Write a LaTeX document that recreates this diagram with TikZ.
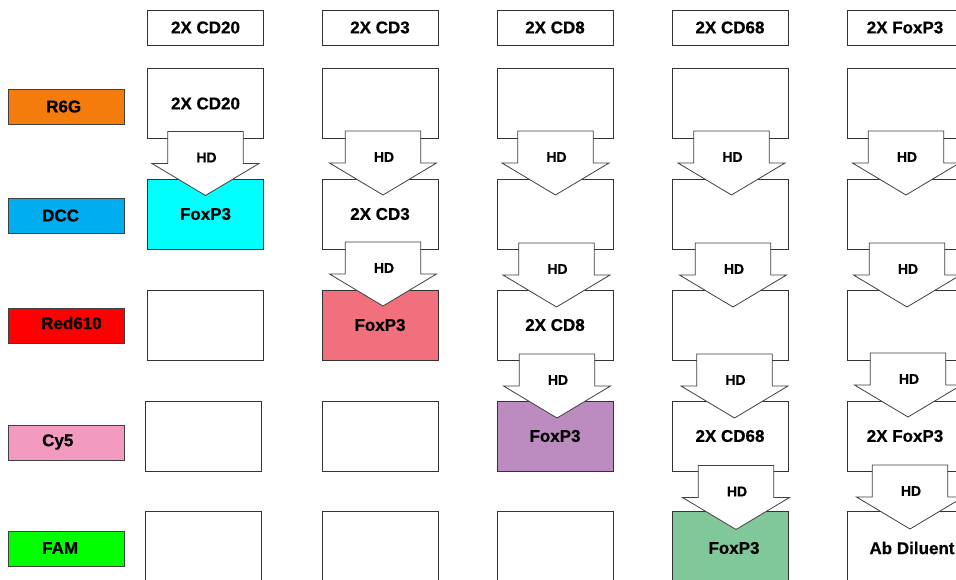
\documentclass[tikz,border=0pt]{standalone}
\usepackage{fontspec}
\setmainfont{Liberation Sans}[BoldFeatures={FakeBold=0.6}]
\definecolor{cR6G}{HTML}{F47C0C}
\definecolor{cDCC}{HTML}{00ADEF}
\definecolor{cRed}{HTML}{FF0000}
\definecolor{cCy}{HTML}{F39AC1}
\definecolor{cFAM}{HTML}{00FF00}
\definecolor{fA}{HTML}{00FFFF}
\definecolor{fB}{HTML}{F26F7E}
\definecolor{fC}{HTML}{BC8BBF}
\definecolor{fD}{HTML}{80C89A}
\newcommand\hdarr[3]{%
  \draw[blk] (#2-37.7,#3) -- (#2+37.7,#3) -- (#2+37.7,#3+32) -- (#2+53.5,#3+32)
    -- (#2,#3+64) -- (#2-53.5,#3+32) -- (#2-37.7,#3+32) -- cycle;
  \node[hd] (#1) at (#2+1,#3+26) {HD};}
\begin{document}
\begin{tikzpicture}[x=1pt,y=-1pt,
  txt/.style={font=\bfseries\fontsize{17}{19}\selectfont},
  cell/.style={txt, draw=black!80, line width=0.8pt, minimum width=116pt, minimum height=70pt, inner sep=0pt},
  headbox/.style={cell, minimum height=35pt},
  dye/.style={draw=black!75, line width=0.8pt, minimum width=116pt, minimum height=35pt, inner sep=0pt},
  lbl/.style={txt, anchor=west, inner sep=0pt},
  hd/.style={font=\bfseries\fontsize{14}{16}\selectfont, inner sep=0pt},
  blk/.style={draw=black!75, fill=white, line width=0.8pt, line join=miter}]
\useasboundingbox (0,0) rectangle (956,579);
\fill[white] (0,0) rectangle (956,579);
% dye labels
\node[dye, fill=cR6G] (d1) at (66,106.5) {};
\node[lbl] (t1) at (46,106.5) {R6G};
\node[dye, fill=cDCC] (d2) at (66,215.5) {};
\node[lbl] (t2) at (42,215.5) {DCC};
\node[dye, fill=cRed] (d3) at (66,325.5) {};
\node[lbl] (t3) at (41,323) {Red610};
\node[dye, fill=cCy] (d4) at (66,443) {};
\node[lbl] (t4) at (42,442) {Cy5};
\node[dye, fill=cFAM] (d5) at (66,549) {};
\node[lbl] (t5) at (42,548) {FAM};
% headers
\node[headbox] (h1) at (205.5,27.5) {2X CD20};
\node[headbox] (h2) at (380,27.5) {2X CD3};
\node[headbox] (h3) at (555,27.5) {2X CD8};
\node[headbox] (h4) at (730,27.5) {2X CD68};
\node[headbox] (h5) at (905,27.5) {2X FoxP3};
% column 1
\node[cell] (c11) at (205.5,103.5) {2X CD20};
\node[cell, fill=fA] (c12) at (205.5,214) {FoxP3};
\node[cell] (c13) at (205.5,325) {};
\node[cell] (c14) at (203,436) {};
\node[cell] (c15) at (203,546.5) {};
% column 2
\node[cell] (c21) at (380,103.5) {};
\node[cell] (c22) at (380,214) {2X CD3};
\node[cell, fill=fB] (c23) at (380,325) {FoxP3};
\node[cell] (c24) at (380,436) {};
\node[cell] (c25) at (380,546.5) {};
% column 3
\node[cell] (c31) at (555,103.5) {};
\node[cell] (c32) at (555,214) {};
\node[cell] (c33) at (555,325) {2X CD8};
\node[cell, fill=fC] (c34) at (555,436) {FoxP3};
\node[cell] (c35) at (555,546.5) {};
% column 4
\node[cell] (c41) at (730,103.5) {};
\node[cell] (c42) at (730,214) {};
\node[cell] (c43) at (730,325) {};
\node[cell] (c44) at (730,436) {2X CD68};
\node[cell, fill=fD] (c45) at (730,546.5) {};
% column 5
\node[cell] (c51) at (905,103.5) {};
\node[cell] (c52) at (905,214) {};
\node[cell] (c53) at (905,325) {};
\node[cell] (c54) at (905,436) {2X FoxP3};
\node[cell] (c55) at (905,546.5) {};
% block arrows
\hdarr{a11}{205.5}{131.5}
\hdarr{a21}{383}{131}
\hdarr{a22}{383}{242}
\hdarr{a31}{555.5}{131}
\hdarr{a32}{556.5}{243}
\hdarr{a33}{557}{354}
\hdarr{a41}{731.5}{131}
\hdarr{a42}{733}{243}
\hdarr{a43}{734.5}{354}
\hdarr{a44}{736}{465.5}
\hdarr{a51}{906}{131}
\hdarr{a52}{907}{243}
\hdarr{a53}{908}{353}
\hdarr{a54}{910}{465}
% texts in last row
\node[txt] (x45) at (734,548) {FoxP3};
\node[txt] (x55) at (912,548) {Ab Diluent};
\end{tikzpicture}
\end{document}
